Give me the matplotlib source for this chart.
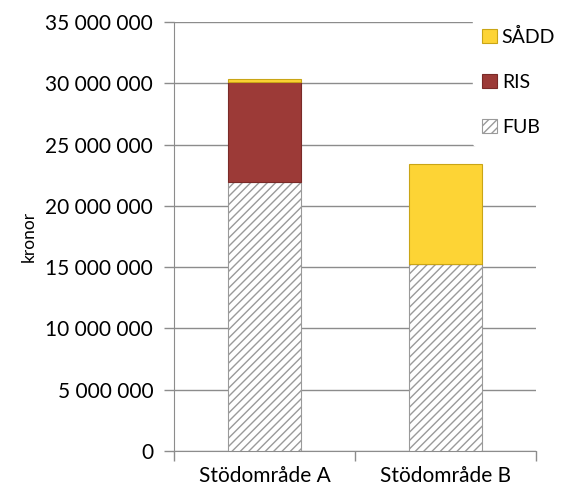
import matplotlib
matplotlib.use("Agg")
import matplotlib.pyplot as plt
from matplotlib.ticker import FuncFormatter

plt.rcParams['font.family'] = ['Lato', 'DejaVu Sans']
plt.rcParams['hatch.linewidth'] = 1.0
plt.rcParams['hatch.color'] = '#909090'

categories = ['Stödområde A', 'Stödområde B']
fub = [21950000, 15250000]
ris = [8150000, 0]
sadd = [250000, 8150000]

fig = plt.figure(figsize=(5.63, 4.92), dpi=100)
ax = fig.add_axes([0.309, 0.0833, 0.643, 0.872])

x = range(len(categories))
w = 0.4
b1 = ax.bar(x, fub, w, color='white', edgecolor='#9a9a9a', hatch='////', lw=0.8, label='FUB', zorder=3)
b2 = ax.bar(x, ris, w, bottom=fub, color='#9c3a37', edgecolor='#7a2a28', lw=0.8, label='RIS', zorder=3)
bot = [a + b for a, b in zip(fub, ris)]
b3 = ax.bar(x, sadd, w, bottom=bot, color='#fdd435', edgecolor='#c9a516', lw=0.8, label='SÅDD', zorder=3)

ax.set_xlim(-0.5, 1.5)
ax.set_ylim(0, 35000000)
ax.set_yticks(range(0, 35000001, 5000000))
ax.yaxis.set_major_formatter(FuncFormatter(lambda v, p: f"{int(v):,}".replace(",", " ")))
ax.set_xticks([0, 1])
ax.set_xticklabels(categories)
ax.set_xticks([-0.5, 0.5, 1.5], minor=True)
ax.tick_params(axis='x', which='major', length=0, pad=11, labelsize=15, colors='#000000')
ax.tick_params(axis='x', which='minor', length=7, color='#8c8c8c', width=1)
ax.tick_params(axis='y', length=7, color='#8c8c8c', width=1, labelsize=15, pad=8)
ax.set_ylabel('kronor', fontsize=12.5, labelpad=6)

ax.grid(axis='y', color='#8c8c8c', lw=1, zorder=0)
for s in ['top', 'right']:
    ax.spines[s].set_visible(False)
ax.spines['left'].set_color('#8c8c8c')
ax.spines['bottom'].set_color('#8c8c8c')

leg = ax.legend([b3, b2, b1], ['SÅDD', 'RIS', 'FUB'], loc='upper left',
                bbox_to_anchor=(0.825, 1.01), frameon=True, fontsize=14,
                handlelength=0.75, handleheight=0.75, handletextpad=0.25,
                labelspacing=1.45, borderpad=0.5, borderaxespad=0)
leg.get_frame().set_edgecolor('white')
leg.get_frame().set_facecolor('white')
leg.get_frame().set_alpha(1)
leg.set_zorder(5)

fig.savefig('out.png', dpi=100)
